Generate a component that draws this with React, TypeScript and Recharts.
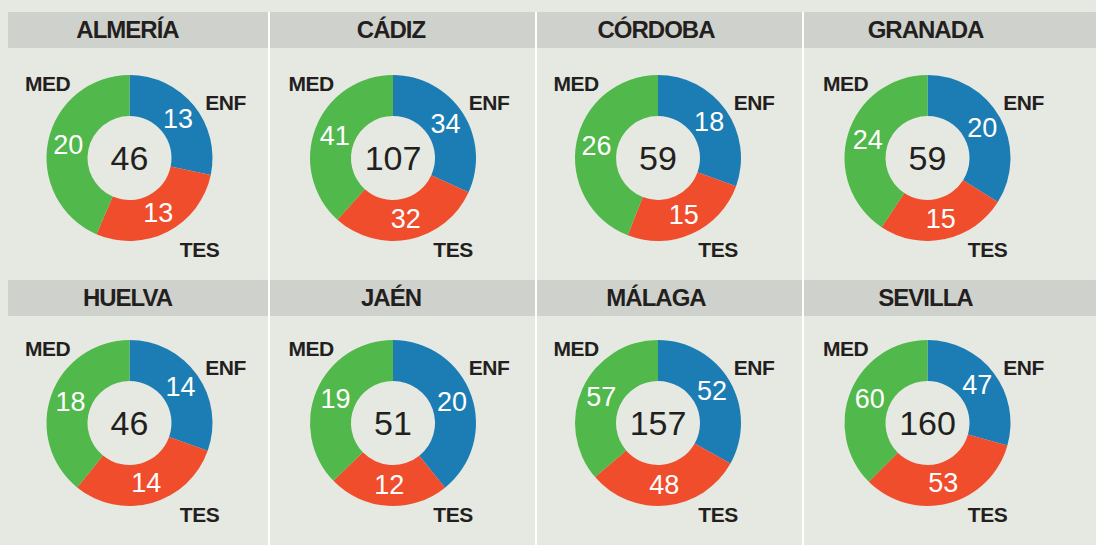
import { PieChart, Pie, Cell } from "recharts";

// data
const PROVINCES = ["ALMERÍA", "CÁDIZ", "CÓRDOBA", "GRANADA", "HUELVA", "JAÉN", "MÁLAGA", "SEVILLA"];
const CATEGORIES = ["ENF", "TES", "MED"];
const ENF = [13, 34, 18, 20, 14, 20, 52, 47];
const TES = [13, 32, 15, 15, 14, 12, 48, 53];
const MED = [20, 41, 26, 24, 18, 19, 57, 60];

const BG = "#e6e9e1";
const HEADER = "#cfd1cc";
const INK = "#231f20";
const COLORS = ["#1b7db4", "#ef4d2c", "#51b84b"];
const FONT = "'Liberation Sans', Arial, sans-serif";

// layout
const COL_X = [8, 270, 537, 804];
const COL_W = [260, 265, 265, 292];
const DONUT_X = [129.5, 393, 658, 927.5];
const ROW_HEAD = [12, 280];
const HEAD_H = 36;
const DONUT_Y = [158, 423];
const SEPS = [268, 535, 802];
const TES_DX = [70, 60, 60, 60];
const CHART_H = 229;

const RAD = Math.PI / 180;

const renderValue = (p: any) => {
  const r = (p.innerRadius + p.outerRadius) / 2;
  const x = p.cx + r * Math.cos(-p.midAngle * RAD);
  const y = p.cy + r * Math.sin(-p.midAngle * RAD);
  return (
    <text
      x={x}
      y={y}
      fill="#fff"
      fontSize={27}
      fontFamily={FONT}
      textAnchor="middle"
      dominantBaseline="central"
    >
      {p.value}
    </text>
  );
};

function Tag({ text, x, y, size = 21, bold = true }: { text: string | number; x: number; y: number; size?: number; bold?: boolean }) {
  return (
    <div
      style={{
        position: "absolute",
        left: x,
        top: y,
        transform: "translate(-50%, -50%)",
        fontFamily: FONT,
        fontWeight: bold ? 700 : 400,
        fontSize: size,
        lineHeight: 1,
        color: INK,
        letterSpacing: bold ? -0.5 : 0,
        whiteSpace: "nowrap",
      }}
    >
      {text}
    </div>
  );
}

function Panel({ i }: { i: number }) {
  const col = i % 4;
  const row = Math.floor(i / 4);
  const values = [ENF[i], TES[i], MED[i]];
  const data = CATEGORIES.map((name, k) => ({ name, value: values[k] }));
  const total = values.reduce((a, b) => a + b, 0);
  const headTop = ROW_HEAD[row];
  const chartTop = headTop + HEAD_H;
  const cx = DONUT_X[col];
  const cy = DONUT_Y[row];

  return (
    <>
      <div
        style={{
          position: "absolute",
          left: COL_X[col],
          top: headTop,
          width: COL_W[col],
          height: HEAD_H,
          background: HEADER,
        }}
      />
      <div
        style={{
          position: "absolute",
          left: cx - 2,
          top: headTop + HEAD_H / 2,
          transform: "translate(-50%, -50%)",
          fontFamily: FONT,
          fontWeight: 700,
          fontSize: 24,
          lineHeight: 1,
          letterSpacing: -1,
          color: INK,
          whiteSpace: "nowrap",
        }}
      >
        {PROVINCES[i]}
      </div>
      <div style={{ position: "absolute", left: COL_X[col], top: chartTop }}>
        <PieChart width={COL_W[col]} height={CHART_H} margin={{ top: 0, right: 0, bottom: 0, left: 0 }}>
          <Pie
            data={data}
            dataKey="value"
            nameKey="name"
            cx={cx - COL_X[col]}
            cy={cy - chartTop}
            innerRadius={42}
            outerRadius={83}
            startAngle={90}
            endAngle={-270}
            label={renderValue}
            labelLine={false}
            isAnimationActive={false}
          >
            {data.map((_, k) => (
              <Cell key={k} fill={COLORS[k]} stroke="none" />
            ))}
          </Pie>
        </PieChart>
      </div>
      <Tag text={total} x={cx} y={cy} size={34} bold={false} />
      <Tag text="MED" x={cx - 82} y={cy - 75} />
      <Tag text="ENF" x={cx + 96} y={cy - 56} />
      <Tag text="TES" x={cx + TES_DX[col]} y={cy + 91} />
    </>
  );
}

export default function App() {
  return (
    <div
      style={{
        position: "absolute",
        left: 0,
        top: 0,
        width: 1096,
        height: 545,
        background: BG,
        overflow: "hidden",
      }}
    >
      {PROVINCES.map((_, i) => (
        <Panel key={i} i={i} />
      ))}
      {SEPS.map((x) => (
        <div
          key={x}
          style={{ position: "absolute", left: x, top: 12, width: 2, height: 533, background: "#fff" }}
        />
      ))}
    </div>
  );
}
